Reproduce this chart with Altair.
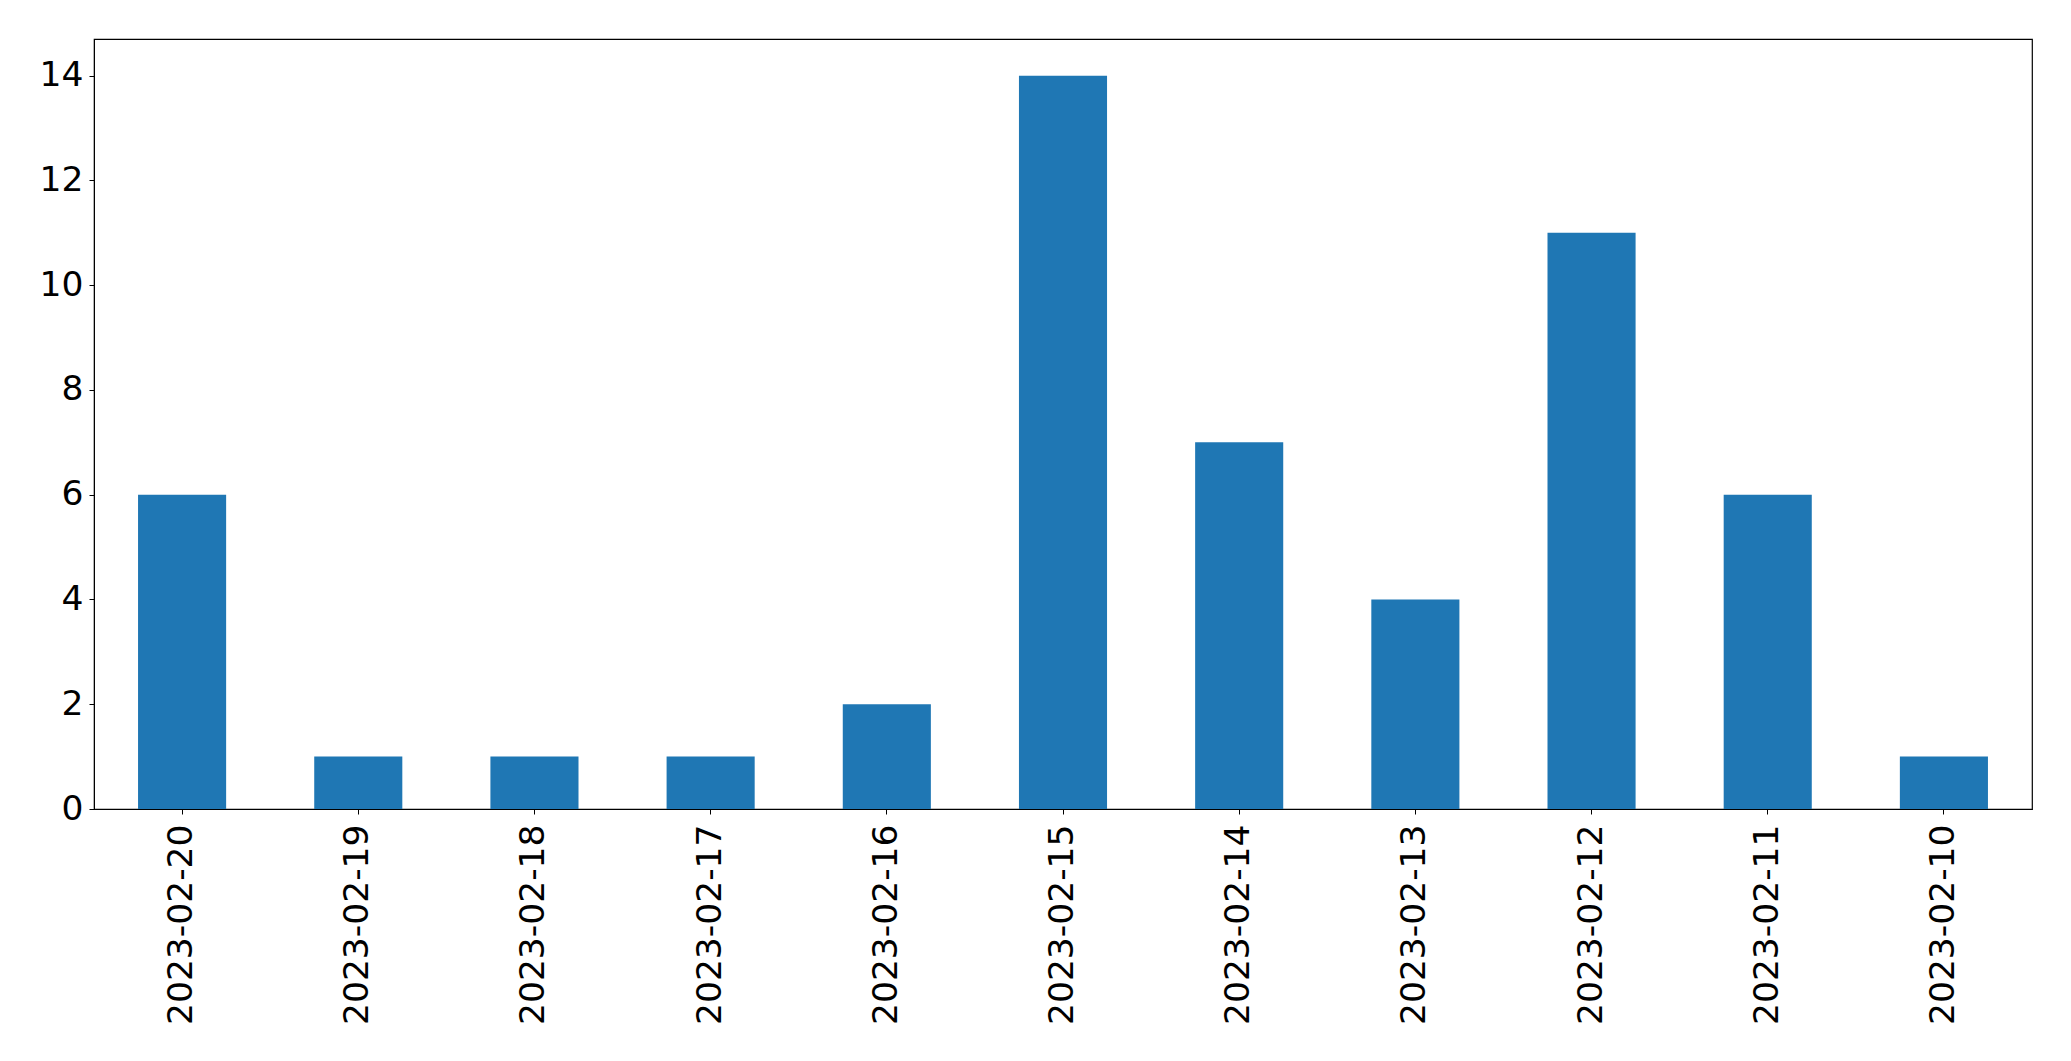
import altair as alt
import pandas as pd

dates = ["2023-02-20", "2023-02-19", "2023-02-18", "2023-02-17", "2023-02-16",
         "2023-02-15", "2023-02-14", "2023-02-13", "2023-02-12", "2023-02-11",
         "2023-02-10"]
counts = [6, 1, 1, 1, 2, 14, 7, 4, 11, 6, 1]
y_ticks = [0, 2, 4, 6, 8, 10, 12, 14]

df = pd.DataFrame({"date": dates, "count": counts})

chart = alt.Chart(df).mark_bar(color="#1f77b4").encode(
    x=alt.X("date:N", sort=None, title=None,
            scale=alt.Scale(paddingInner=0.5, paddingOuter=0.25),
            axis=alt.Axis(labelAngle=-90, labelFontSize=34.5, labelFont="DejaVu Sans",
                          labelColor="black", tickColor="black", domainColor="black",
                          tickSize=5, labelPadding=10, labelBaseline="middle",
                          labelAlign="right", labelLimit=1000)),
    y=alt.Y("count:Q", title=None,
            scale=alt.Scale(domain=[0, 14.7], nice=False, zero=True),
            axis=alt.Axis(values=y_ticks, grid=False, labelFontSize=34.5,
                          labelFont="DejaVu Sans", labelColor="black",
                          tickColor="black", domainColor="black", tickSize=5,
                          labelPadding=6)),
).properties(
    width=1938, height=770,
    autosize=alt.AutoSizeParams(type="none"),
    padding={"left": 86, "top": 31, "right": 20, "bottom": 240},
    background="white",
).configure_view(
    stroke="black", strokeWidth=1.2
)

chart.save("out.html", embed_options={"renderer": "svg", "actions": False})
